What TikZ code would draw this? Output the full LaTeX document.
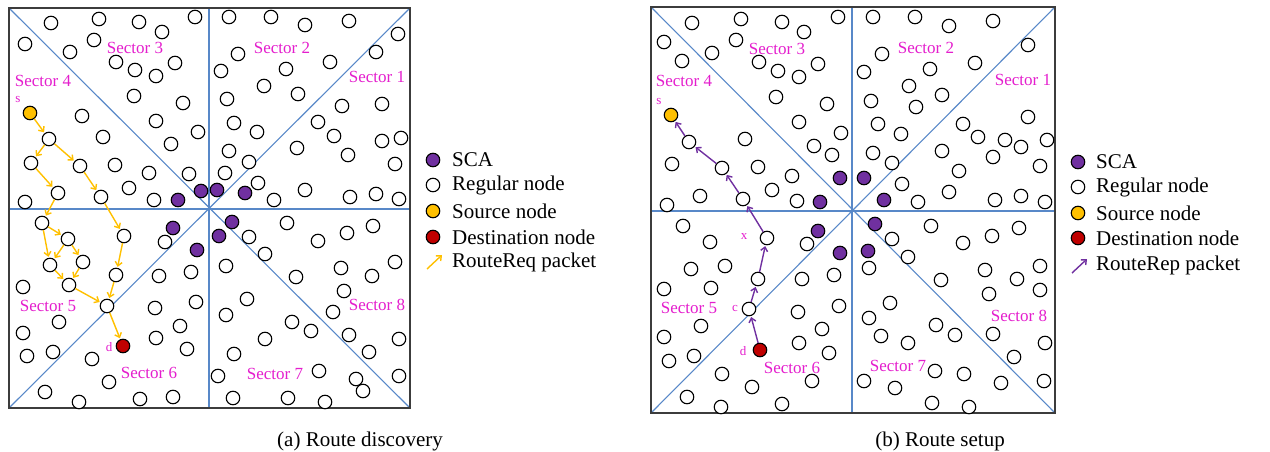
\documentclass[tikz,border=0pt]{standalone}
\usepackage{fontspec}
\setmainfont{Liberation Serif}
\usetikzlibrary{arrows.meta}
\definecolor{sectline}{RGB}{88,136,200}
\definecolor{frameline}{RGB}{60,60,60}
\definecolor{scafill}{RGB}{112,48,160}
\definecolor{srcfill}{RGB}{255,192,0}
\definecolor{dstfill}{RGB}{192,0,0}
\definecolor{labelmag}{RGB}{228,30,205}
\definecolor{reqcol}{RGB}{255,192,0}
\definecolor{repcol}{RGB}{112,48,160}
\tikzset{
  pnode/.style={circle,draw=black,line width=1.1pt,minimum size=13.5pt,inner sep=0pt,fill=white},
  reg/.style={pnode},
  sca/.style={pnode,fill=scafill},
  src/.style={pnode,fill=srcfill},
  dst/.style={pnode,fill=dstfill},
  sectlbl/.style={text=labelmag,font=\fontsize{17}{17}\selectfont,inner sep=0pt},
  tag/.style={text=labelmag,font=\fontsize{13}{13}\selectfont,inner sep=0pt},
  legtxt/.style={anchor=west,font=\fontsize{21}{21}\selectfont,inner sep=0pt},
  capt/.style={anchor=base,font=\fontsize{21}{21}\selectfont,inner sep=0pt},
  req/.style={draw=reqcol,line width=1.4pt,shorten >=1pt,-{Straight Barb[length=4pt,width=7pt]}},
  rep/.style={draw=repcol,line width=1.4pt,shorten >=1pt,-{Straight Barb[length=4pt,width=7pt]}},
  sectfr/.style={draw=sectline,line width=1.1pt},
  outerfr/.style={draw=frameline,line width=1.2pt}
}
\begin{document}
\begin{tikzpicture}[x=1pt,y=-1pt]
\useasboundingbox (0,0) rectangle (1270,452);

% ---------------- left panel: route discovery ----------------
\coordinate (LA) at (9,8);
\coordinate (LB) at (410,8);
\coordinate (LC) at (410,408);
\coordinate (LD) at (9,408);
\draw[sectfr] (LA) -- (LC);
\draw[sectfr] (LB) -- (LD);
\draw[sectfr] (209,8) -- (209,408);
\draw[sectfr] (9,209) -- (410,209);
\draw[outerfr] (LA) rectangle (LC);

\foreach \p [count=\i] in {(51,23),(99,19),(139,22),(162,32),(195,17),(25,44),(94,40),(70,52),(116,62),(135,70),(156,76),(175,63),(134,96),(183,103),(82,116),(156,121),(198,132),(103,137),(171,144),(115,165),(149,173),(189,174),(129,188),(154,200),(25,202),
(229,17),(271,17),(305,25),(349,21),(398,34),(238,54),(376,52),(221,71),(330,62),(286,69),(264,86),(298,94),(227,99),(342,106),(382,104),(234,123),(318,122),(257,132),(334,136),(382,141),(401,138),(297,148),(229,151),(348,155),(249,162),(395,164),(225,173),(258,183),(305,190),(274,200),(350,197),(376,194),(399,199),
(165,242),(159,276),(191,272),(23,287),(155,308),(196,302),(59,322),(180,326),(23,333),(156,338),(187,349),(27,356),(53,352),(92,359),(109,382),(45,392),(79,402),(140,399),(173,397),
(249,237),(287,223),(373,226),(347,233),(318,241),(265,254),(226,266),(341,268),(395,262),(296,277),(372,276),(344,291),(247,299),(226,315),(333,312),(292,322),(311,331),(349,335),(399,339),(265,339),(369,352),(234,354),(218,376),(319,371),(356,379),(399,376),(363,391),(233,398),(288,398),(325,402)}
  \node[reg] (lr\i) at \p {};

\foreach \p [count=\i] in {(178,200),(201,191),(217,190),(245,193),(173,228),(197,250),(232,222),(219,236)}
  \node[sca] (ls\i) at \p {};

% flooding path of the request
\node[src] (ls) at (30,113) {};
\node[reg] (a1) at (49,139) {};
\node[reg] (a2) at (31,163) {};
\node[reg] (a3) at (80,166) {};
\node[reg] (a4) at (58,193) {};
\node[reg] (a5) at (101,197) {};
\node[reg] (a6) at (42,223) {};
\node[reg] (a7) at (68,239) {};
\node[reg] (a8) at (124,236) {};
\node[reg] (a9) at (50,265) {};
\node[reg] (a10) at (83,262) {};
\node[reg] (a11) at (69,285) {};
\node[reg] (a12) at (116,275) {};
\node[reg] (a13) at (107,306) {};
\node[dst] (ld) at (123,346) {};

\draw[req] (ls) -- (a1);
\draw[req] (a1) -- (a2);
\draw[req] (a1) -- (a3);
\draw[req] (a2) -- (a4);
\draw[req] (a3) -- (a5);
\draw[req] (a4) -- (a6);
\draw[req] (a5) -- (a8);
\draw[req] (a6) -- (a7);
\draw[req] (a6) -- (a9);
\draw[req] (a7) -- (a9);
\draw[req] (a7) -- (a10);
\draw[req] (a9) -- (a11);
\draw[req] (a10) -- (a11);
\draw[req] (a11) -- (a13);
\draw[req] (a8) -- (a12);
\draw[req] (a12) -- (a13);
\draw[req] (a13) -- (ld);

\node[tag] (lst) at (18,100) {s};
\node[tag] (ldt) at (109,347) {d};

\node[sectlbl] (l1) at (377,77) {Sector 1};
\node[sectlbl] (l2) at (282,48) {Sector 2};
\node[sectlbl] (l3) at (135,48) {Sector 3};
\node[sectlbl] (l4) at (43,81) {Sector 4};
\node[sectlbl] (l5) at (48,306) {Sector 5};
\node[sectlbl] (l6) at (149,373) {Sector 6};
\node[sectlbl] (l7) at (275,374) {Sector 7};
\node[sectlbl] (l8) at (377,305) {Sector 8};

% legend of the left panel
\node[sca] (lk1) at (433,160) {};
\node[reg] (lk2) at (433,185) {};
\node[src] (lk3) at (433,211) {};
\node[dst] (lk4) at (433,237) {};
\coordinate (lk5a) at (427,269);
\coordinate (lk5b) at (442,255);
\draw[req,shorten >=0pt] (lk5a) -- (lk5b);
\node[legtxt] (lt1) at (452,160) {SCA};
\node[legtxt] (lt2) at (452,185) {Regular node};
\node[legtxt] (lt3) at (452,211) {Source node};
\node[legtxt] (lt4) at (452,237) {Destination node};
\node[legtxt] (lt5) at (452,262) {RouteReq packet};

\node[capt] (capa) at (360,446) {(a) Route discovery};

% ---------------- right panel: route setup ----------------
\coordinate (RA) at (651,7);
\coordinate (RB) at (1055,7);
\coordinate (RC) at (1055,413);
\coordinate (RD) at (651,413);
\draw[sectfr] (RA) -- (RC);
\draw[sectfr] (RB) -- (RD);
\draw[sectfr] (852,7) -- (852,413);
\draw[sectfr] (651,211) -- (1055,211);
\draw[outerfr] (RA) rectangle (RC);

\foreach \p [count=\i] in {(692,23),(741,19),(782,22),(804,32),(838,17),(664,42),(736,40),(712,53),(682,61),(759,62),(778,71),(799,77),(818,64),(776,97),(827,104),(799,122),(841,133),(745,139),(814,146),(832,155),(672,164),(758,167),(792,176),(700,196),(772,190),(797,201),(667,205),
(873,17),(915,17),(949,26),(993,21),(1028,45),(882,54),(975,63),(864,72),(930,69),(909,86),(942,95),(871,101),(916,107),(1028,117),(963,124),(878,124),(901,134),(978,137),(1005,140),(1021,147),(1047,140),(942,151),(873,153),(993,157),(892,163),(1040,166),(959,171),(902,184),(949,192),(918,202),(995,200),(1021,196),(1045,202),
(683,226),(710,242),(807,244),(691,269),(725,266),(664,289),(711,288),(802,279),(834,275),(839,306),(798,312),(701,326),(822,329),(664,337),(799,343),(829,353),(669,361),(694,356),(722,374),(812,381),(752,387),(687,397),(721,407),(782,404),
(892,239),(931,226),(963,243),(992,236),(1019,228),(908,257),(869,268),(941,280),(985,270),(1017,279),(1040,266),(989,294),(1040,290),(890,303),(869,318),(936,325),(955,335),(993,334),(881,336),(908,343),(1045,343),(1014,357),(935,371),(964,374),(864,381),(1001,383),(1044,381),(895,388),(932,403),(969,407)}
  \node[reg] (rr\i) at \p {};

\foreach \p [count=\i] in {(840,178),(820,202),(864,178),(884,200),(818,231),(840,253),(875,224),(868,251)}
  \node[sca] (rs\i) at \p {};

% reply path back to the source
\node[src] (rsrc) at (671,115) {};
\node[reg] (b1) at (689,142) {};
\node[reg] (b2) at (722,168) {};
\node[reg] (b3) at (743,199) {};
\node[reg] (bx) at (767,238) {};
\node[reg] (b5) at (758,279) {};
\node[reg] (bc) at (749,309) {};
\node[dst] (rd) at (760,350) {};

\draw[rep] (rd) -- (bc);
\draw[rep] (bc) -- (b5);
\draw[rep] (b5) -- (bx);
\draw[rep] (bx) -- (b3);
\draw[rep] (b3) -- (b2);
\draw[rep] (b2) -- (b1);
\draw[rep] (b1) -- (rsrc);

\node[tag] (rst) at (659,102) {s};
\node[tag] (rxt) at (744,237) {x};
\node[tag] (rct) at (735,308) {c};
\node[tag] (rdt) at (743,351) {d};

\node[sectlbl] (r1) at (1023,80) {Sector 1};
\node[sectlbl] (r2) at (926,48) {Sector 2};
\node[sectlbl] (r3) at (777,49) {Sector 3};
\node[sectlbl] (r4) at (684,81) {Sector 4};
\node[sectlbl] (r5) at (689,308) {Sector 5};
\node[sectlbl] (r6) at (792,368) {Sector 6};
\node[sectlbl] (r7) at (898,366) {Sector 7};
\node[sectlbl] (r8) at (1019,316) {Sector 8};

% legend of the right panel
\node[sca] (rk1) at (1078,162) {};
\node[reg] (rk2) at (1078,187) {};
\node[src] (rk3) at (1078,213) {};
\node[dst] (rk4) at (1078,238) {};
\coordinate (rk5a) at (1072,273);
\coordinate (rk5b) at (1087,259);
\draw[rep,shorten >=0pt] (rk5a) -- (rk5b);
\node[legtxt] (rt1) at (1096,162) {SCA};
\node[legtxt] (rt2) at (1096,187) {Regular node};
\node[legtxt] (rt3) at (1096,213) {Source node};
\node[legtxt] (rt4) at (1096,238) {Destination node};
\node[legtxt] (rt5) at (1096,265) {RouteRep packet};

\node[capt] (capb) at (940,446) {(b) Route setup};
\end{tikzpicture}
\end{document}
